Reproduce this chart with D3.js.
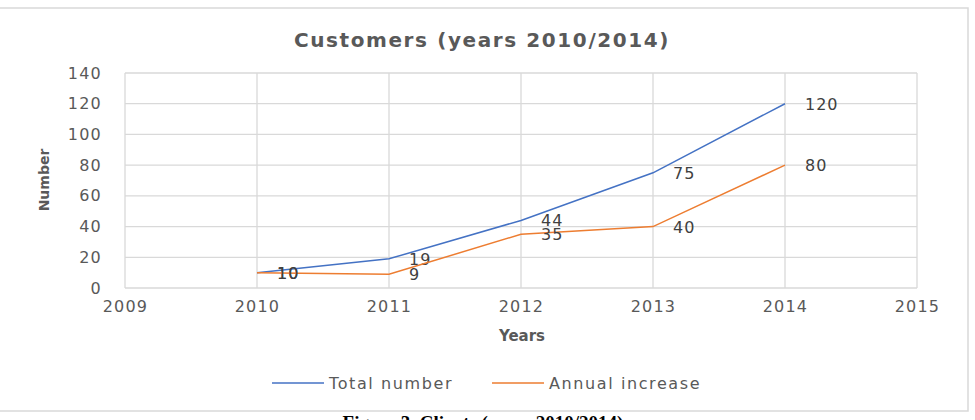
<!DOCTYPE html>
<html lang="en">
<head>
    <meta charset="UTF-8">
    <title>Customers (years 2010/2014)</title>
    <script src="https://d3js.org/d3.v7.min.js"></script>
    <style>
        body { margin: 0; background: #fff; }
        svg text { font-family: "DejaVu Sans", sans-serif; fill: #595959; }
    </style>
</head>
<body>
<svg id="chart" width="975" height="420"></svg>
<script>
    // chart data
    const years = [2010, 2011, 2012, 2013, 2014];
    const totalNumber = [10, 19, 44, 75, 120];
    const annualIncrease = [10, 9, 35, 40, 80];
    const xTicks = [2009, 2010, 2011, 2012, 2013, 2014, 2015];
    const yTicks = [0, 20, 40, 60, 80, 100, 120, 140];
    const seriesNames = ["Total number", "Annual increase"];
    const seriesColors = ["#4472C4", "#ED7D31"];

    const svg = d3.select("#chart");

    // outer chart frame
    svg.append("rect")
        .attr("x", -1).attr("y", 8)
        .attr("width", 969).attr("height", 403)
        .style("fill", "none")
        .style("stroke", "#d9d9d9")
        .style("stroke-width", 1.5);

    const plot = { left: 125, right: 917, top: 73, bottom: 288 };

    const x = d3.scaleLinear().domain([2009, 2015]).range([plot.left, plot.right]);
    const y = d3.scaleLinear().domain([0, 140]).range([plot.bottom, plot.top]);

    // title
    svg.append("text")
        .text("Customers (years 2010/2014)")
        .attr("x", 482).attr("y", 47)
        .style("font-size", "20px")
        .style("font-weight", "bold")
        .style("letter-spacing", "1.6px")
        .style("text-anchor", "middle");

    // gridlines
    const grid = svg.append("g");
    grid.selectAll(".hgrid").data(yTicks).join("line")
        .attr("x1", plot.left).attr("x2", plot.right)
        .attr("y1", d => y(d)).attr("y2", d => y(d))
        .style("stroke", "#d9d9d9").style("stroke-width", 1.3);
    grid.selectAll(".vgrid").data(xTicks).join("line")
        .attr("y1", plot.top).attr("y2", plot.bottom)
        .attr("x1", d => x(d)).attr("x2", d => x(d))
        .style("stroke", "#d9d9d9").style("stroke-width", 1.3);

    // axes (labels only, lines come from the grid)
    const yAxis = svg.append("g")
        .attr("transform", `translate(${plot.left},0)`)
        .call(d3.axisLeft(y).tickValues(yTicks).tickSize(0).tickPadding(23));
    const xAxis = svg.append("g")
        .attr("transform", `translate(0,${plot.bottom})`)
        .call(d3.axisBottom(x).tickValues(xTicks).tickFormat(d3.format("d")).tickSize(0).tickPadding(13));
    [xAxis, yAxis].forEach(a => {
        a.select(".domain").remove();
        a.selectAll("text")
            .style("font-size", "16px")
            .style("letter-spacing", "1.2px")
            .style("font-family", "DejaVu Sans, sans-serif")
            .attr("fill", "#595959");
    });

    // axis titles
    svg.append("text")
        .text("Number")
        .attr("transform", "translate(49,180) rotate(-90)")
        .style("font-size", "14px")
        .style("font-weight", "bold")
        .style("text-anchor", "middle");
    svg.append("text")
        .text("Years")
        .attr("x", 522).attr("y", 341)
        .style("font-size", "15px")
        .style("font-weight", "bold")
        .style("text-anchor", "middle");

    // lines + data labels
    const series = [totalNumber, annualIncrease];
    const line = d3.line().x(d => x(d[0])).y(d => y(d[1]));

    series.forEach(function(values, s) {
        const pts = years.map((yr, i) => [yr, values[i]]);
        svg.append("path")
            .datum(pts)
            .attr("d", line)
            .style("fill", "none")
            .style("stroke", seriesColors[s])
            .style("stroke-width", 1.5);

        svg.selectAll(".lbl" + s).data(pts).join("text")
            .text(d => d[1])
            .attr("x", d => x(d[0]) + 20)
            .attr("y", d => y(d[1]) + 6)
            .style("font-size", "16px")
            .style("letter-spacing", "1px")
            .style("fill", "#404040");
    });

    // legend
    const legendX = [272, 492];
    seriesNames.forEach(function(name, i) {
        svg.append("line")
            .attr("x1", legendX[i]).attr("x2", legendX[i] + 52)
            .attr("y1", 383).attr("y2", 383)
            .style("stroke", seriesColors[i])
            .style("stroke-width", 1.5);
        svg.append("text")
            .text(name)
            .attr("x", legendX[i] + 57).attr("y", 389)
            .style("font-size", "16px")
            .style("letter-spacing", "1.6px");
    });

    // figure caption (cut off at the bottom edge)
    svg.append("text")
        .text("Figure 3. Clients (years 2010/2014)")
        .attr("x", 483).attr("y", 429)
        .style("font-family", "Liberation Serif, serif")
        .style("font-size", "19px")
        .style("font-weight", "bold")
        .style("fill", "#000")
        .style("text-anchor", "middle");
</script>
</body>
</html>
